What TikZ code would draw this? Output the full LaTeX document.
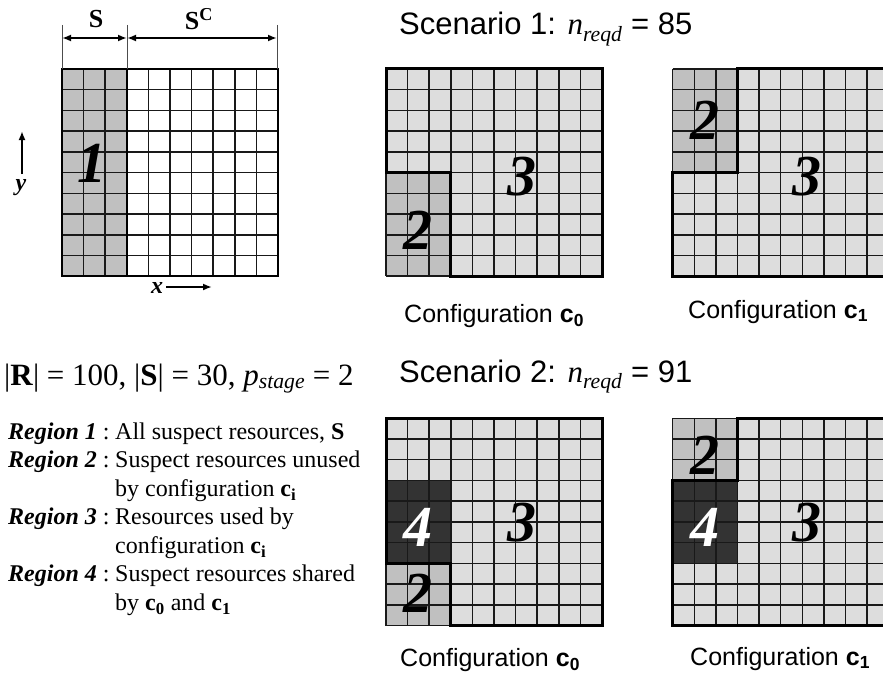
\documentclass[tikz,border=0pt]{standalone}
\usepackage{fontspec}
\setmainfont{Liberation Serif}
\newfontfamily\arialfont{Liberation Sans}
\usepackage{xcolor}
\usepackage{tikz}
\usetikzlibrary{arrows.meta,positioning}

\definecolor{litegray}{HTML}{DDDDDD}
\definecolor{midgray}{HTML}{C0C0C0}
\definecolor{sharedgray}{HTML}{333333}

\begin{document}
\begin{tikzpicture}[x=1pt,y=-1pt,>=Latex,
  cellline/.style={line width=1.5pt,black!90},
  outline/.style={line width=3pt,black,line join=miter},
  dimline/.style={line width=0.8pt,black!70},
  dimarrow/.style={<->,line width=1.8pt,>={Latex[length=9pt,width=7pt]}},
  axisarrow/.style={->,line width=1.8pt,>={Latex[length=9pt,width=7pt]}},
  regnum/.style={font=\fontsize{58}{58}\selectfont\bfseries\itshape,inner sep=0pt},
  scen/.style={font=\fontsize{31}{34}\selectfont\arialfont,anchor=base west,inner sep=0pt},
  conf/.style={font=\fontsize{25}{28}\selectfont\arialfont,anchor=base west,inner sep=0pt},
  legend/.style={font=\fontsize{24}{28}\selectfont,anchor=base west,inner sep=0pt}]
  \useasboundingbox (0,0) rectangle (883,677);
  \clip (0,0) rectangle (883,677);

  % resource array with suspect columns
  \begin{scope}[shift={(62,69)},x=21.6pt,y=-20.72pt]
    \fill[midgray] (0,0) rectangle (3,10);
    \foreach \i in {1,...,9} {
      \draw[cellline] (\i,0) -- (\i,10);
      \draw[cellline] (0,\i) -- (10,\i);
    }
    \draw[outline,line width=2.5pt] (0,0) rectangle (10,10);
    \draw[outline,line width=2.5pt] (3,0) -- (3,10);
    \node[regnum] (rone) at (1.4,4.55) {1};
  \end{scope}
  \coordinate (sleft) at (62,38);  \coordinate (smid) at (127,38);  \coordinate (sright) at (277,38);
  \draw[dimline] (62,25) -- (62,69);
  \draw[dimline] (127,25) -- (127,69);
  \draw[dimline] (277,25) -- (277,69);
  \draw[dimarrow] (sleft) -- (smid);
  \draw[dimarrow] (smid) -- (sright);
  \node[font=\fontsize{26}{28}\selectfont\bfseries] (slab) at (96,19) {S};
  \node[font=\fontsize{26}{28}\selectfont\bfseries] (sclab) at (199,19) {S\textsuperscript{C}};
  \node[font=\fontsize{24}{26}\selectfont\bfseries\itshape] (ylab) at (21,188) {y};
  \coordinate (ytail) at (22,174);  \coordinate (yhead) at (22,131);
  \draw[axisarrow] (ytail) -- (yhead);
  \node[font=\fontsize{24}{26}\selectfont\bfseries\itshape] (xlab) at (157,288) {x};
  \coordinate (xtail) at (166,287);  \coordinate (xhead) at (212,287);
  \draw[axisarrow] (xtail) -- (xhead);

  % scenario 1
  \node[scen] (scen1) at (399,35) {Scenario 1: {\rmfamily\itshape n\textsubscript{reqd}} = 85};
  \begin{scope}[shift={(386,69)},x=21.6pt,y=-20.72pt]
    \fill[litegray] (0,0) rectangle (10,10);
    \fill[midgray] (0,5) rectangle (3,10);
    \foreach \i in {0,...,10} {
      \draw[cellline] (\i,0) -- (\i,10);
      \draw[cellline] (0,\i) -- (10,\i);
    }
    \draw[outline] (0,0) -- (10,0) -- (10,10) -- (3,10) -- (3,5) -- (0,5) -- cycle;
    \node[regnum] (aatwo) at (1.48,7.77) {2};
    \node[regnum] (aathree) at (6.3,5.2) {3};
  \end{scope}
  \node[conf] (cfgaa) at (404,322.7) {Configuration \textbf{c}\textsubscript{\textbf{0}}};
  \begin{scope}[shift={(672.7,69)},x=21.6pt,y=-20.72pt]
    \fill[litegray] (0,0) rectangle (10,10);
    \fill[midgray] (0,0) rectangle (3,5);
    \foreach \i in {0,...,10} {
      \draw[cellline] (\i,0) -- (\i,10);
      \draw[cellline] (0,\i) -- (10,\i);
    }
    \draw[outline] (0,5) -- (3,5) -- (3,0) -- (10,0) -- (10,10) -- (0,10) -- cycle;
    \node[regnum] (abtwo) at (1.5,2.46) {2};
    \node[regnum] (abthree) at (6.2,5.2) {3};
  \end{scope}
  \node[conf] (cfgab) at (688,318) {Configuration \textbf{c}\textsubscript{\textbf{1}}};

  % scenario 2
  \node[scen] (scen2) at (399,382) {Scenario 2: {\rmfamily\itshape n\textsubscript{reqd}} = 91};
  \begin{scope}[shift={(386,418.3)},x=21.6pt,y=-20.72pt]
    \fill[litegray] (0,0) rectangle (10,10);
    \fill[sharedgray] (0,3) rectangle (3,7);
    \fill[midgray] (0,7) rectangle (3,10);
    \foreach \i in {0,...,10} {
      \draw[cellline] (\i,0) -- (\i,10);
      \draw[cellline] (0,\i) -- (10,\i);
    }
    \draw[outline] (0,0) -- (10,0) -- (10,10) -- (3,10) -- (3,7) -- (0,7) -- cycle;
    \node[regnum,white] (bafour) at (1.5,5.25) {4};
    \node[regnum] (batwo) at (1.5,8.43) {2};
    \node[regnum] (bathree) at (6.3,5.05) {3};
  \end{scope}
  \node[conf] (cfgba) at (400,666.7) {Configuration \textbf{c}\textsubscript{\textbf{0}}};
  \begin{scope}[shift={(672.7,418.3)},x=21.6pt,y=-20.72pt]
    \fill[litegray] (0,0) rectangle (10,10);
    \fill[midgray] (0,0) rectangle (3,3);
    \fill[sharedgray] (0,3) rectangle (3,7);
    \foreach \i in {0,...,10} {
      \draw[cellline] (\i,0) -- (\i,10);
      \draw[cellline] (0,\i) -- (10,\i);
    }
    \draw[outline] (0,3) -- (3,3) -- (3,0) -- (10,0) -- (10,10) -- (0,10) -- cycle;
    \node[regnum] (bbtwo) at (1.5,1.77) {2};
    \node[regnum,white] (bbfour) at (1.5,5.25) {4};
    \node[regnum] (bbthree) at (6.2,5.05) {3};
  \end{scope}
  \node[conf] (cfgbb) at (690,665) {Configuration \textbf{c}\textsubscript{\textbf{1}}};

  % legend
  \node[legend,font=\fontsize{31}{34}\selectfont] (sizes) at (4,385)
    {|\textbf{R}| = 100, |\textbf{S}| = 30, \textit{p}\textsubscript{\textit{stage}} = 2};
  \node[legend] (keyone) at (8,439.3) {\textbf{\textit{Region 1}} :};
  \node[legend] (txtone) at (115,439.3) {All suspect resources, \textbf{S}};
  \node[legend] (keytwo) at (8,467.8) {\textbf{\textit{Region 2}} :};
  \node[legend] (txttwo) at (115,467.8) {Suspect resources unused};
  \node[legend] (txttwob) at (115,496.3) {by configuration \textbf{c}\textsubscript{\textbf{i}}};
  \node[legend] (keythree) at (8,524.8) {\textbf{\textit{Region 3}} :};
  \node[legend] (txtthree) at (115,524.8) {Resources used by};
  \node[legend] (txtthreeb) at (115,553.3) {configuration \textbf{c}\textsubscript{\textbf{i}}};
  \node[legend] (keyfour) at (8,581.8) {\textbf{\textit{Region 4}} :};
  \node[legend] (txtfour) at (115,581.8) {Suspect resources shared};
  \node[legend] (txtfourb) at (115,610.3) {by \textbf{c}\textsubscript{\textbf{0}} and \textbf{c}\textsubscript{\textbf{1}}};
\end{tikzpicture}
\end{document}
